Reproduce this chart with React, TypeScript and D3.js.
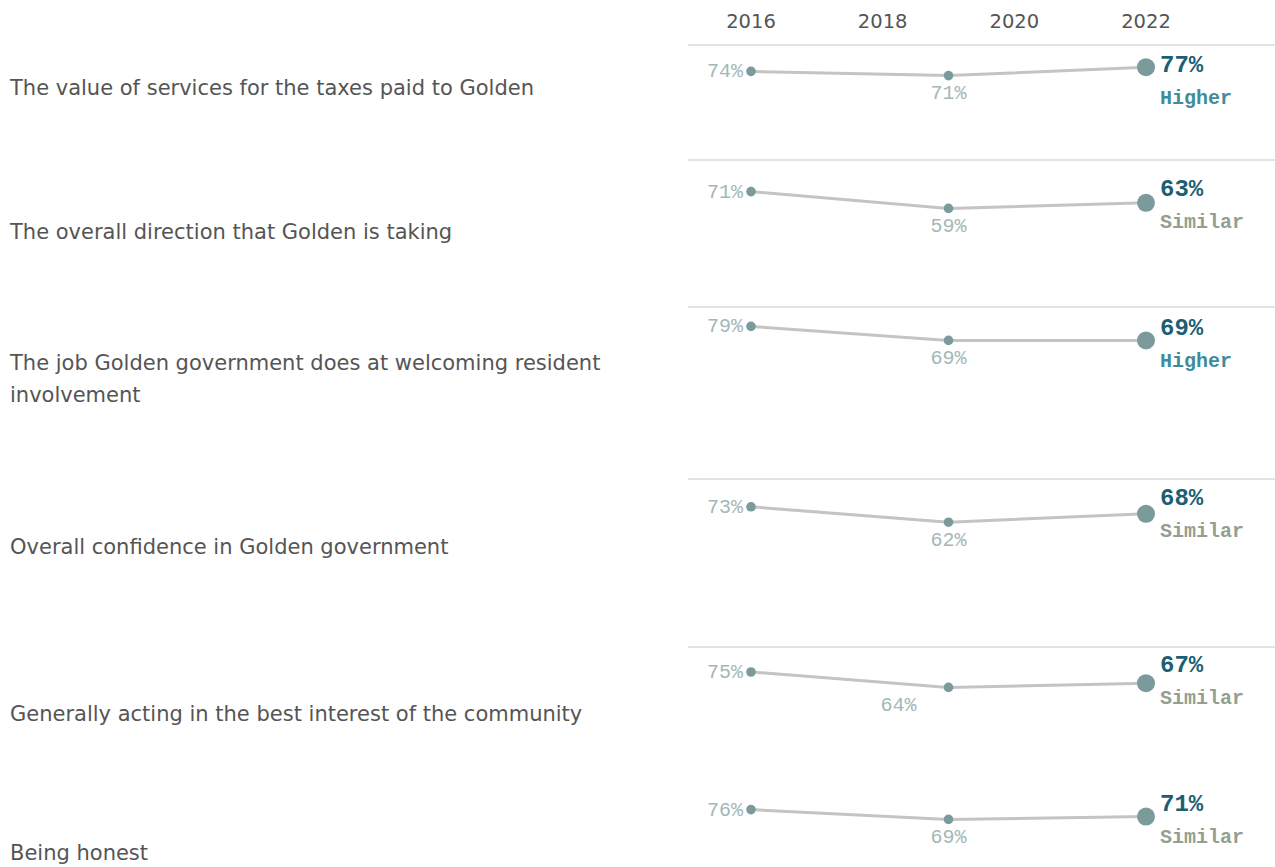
import React from "react";
import * as d3 from "d3";

// ---- data ----
const categories: string[][] = [
  ["The value of services for the taxes paid to Golden"],
  ["The overall direction that Golden is taking"],
  ["The job Golden government does at welcoming resident", "involvement"],
  ["Overall confidence in Golden government"],
  ["Generally acting in the best interest of the community"],
  ["Being honest"],
];
const surveyYears = [2016, 2019, 2022];
const values2016 = [74, 71, 79, 73, 75, 76];
const values2019 = [71, 59, 69, 62, 64, 69];
const values2022 = [77, 63, 69, 68, 67, 71];
const comparison = ["Higher", "Similar", "Higher", "Similar", "Similar", "Similar"];
const tickYears = [2016, 2018, 2020, 2022];

// ---- layout ----
const W = 1275;
const H = 867;
const rowTops = [45, 161, 307, 479, 647, 786];
const rowSeparator = [true, true, true, true, true, false];
const labelCenters = [87, 231, 378, 546, 713, 852];
const midLabelDx = [0, 0, 0, 0, -50, 0];
const bigLabelDy = [19, 27, 20, 18, 17, 17];
const labelLineH = 32;

const SANS = "'DejaVu Sans', Verdana, sans-serif";
const MONO = "'Liberation Mono', 'Courier New', monospace";

const colors = {
  sep: "#d9d9d9",
  line: "#c4c4c4",
  point: "#7b9a9b",
  small: "#a3b8b8",
  big: "#1d5e73",
  Higher: "#3f8c9b",
  Similar: "#939f90",
  text: "#555555",
};

export default function App() {
  const x = d3.scaleLinear().domain([2016, 2022]).range([751, 1146]);
  const yRel = d3.scaleLinear().domain([0, 100]).range([130, -10]);
  const lineGen = d3
    .line<[number, number]>()
    .x((d) => d[0])
    .y((d) => d[1]);

  return (
    <svg
      width={W}
      height={H}
      style={{ position: "absolute", left: 0, top: 0, background: "#fff" }}
    >
      {tickYears.map((t) => (
        <text
          key={t}
          x={x(t)}
          y={28}
          textAnchor="middle"
          fontFamily={SANS}
          fontSize={19.5}
          fill={colors.text}
        >
          {t}
        </text>
      ))}
      {categories.map((lines, i) => {
        const top = rowTops[i];
        const vals = [values2016[i], values2019[i], values2022[i]];
        const pts: [number, number][] = vals.map((v, j) => [
          x(surveyYears[j]),
          top + yRel(v),
        ]);
        const startY =
          labelCenters[i] - ((lines.length - 1) * labelLineH) / 2 + 7.5;
        const bigY = top + bigLabelDy[i] + 7.5;
        return (
          <g key={i}>
            {rowSeparator[i] && (
              <line
                x1={688}
                x2={W}
                y1={rowTops[i] === 161 ? 160 : top}
                y2={rowTops[i] === 161 ? 160 : top}
                stroke={colors.sep}
                strokeWidth={1.5}
              />
            )}
            {lines.map((ln, k) => (
              <text
                key={k}
                x={10}
                y={startY + k * labelLineH}
                fontFamily={SANS}
                fontSize={21}
                fill={colors.text}
              >
                {ln}
              </text>
            ))}
            <path
              d={lineGen(pts) || ""}
              fill="none"
              stroke={colors.line}
              strokeWidth={3}
            />
            <circle cx={pts[0][0]} cy={pts[0][1]} r={4.8} fill={colors.point} />
            <circle cx={pts[1][0]} cy={pts[1][1]} r={4.8} fill={colors.point} />
            <circle cx={pts[2][0]} cy={pts[2][1]} r={9} fill={colors.point} />
            <text
              x={pts[0][0] - 8}
              y={pts[0][1] + 6}
              textAnchor="end"
              fontFamily={MONO}
              fontSize={20}
              fill={colors.small}
            >
              {vals[0]}%
            </text>
            <text
              x={pts[1][0] + midLabelDx[i]}
              y={pts[1][1] + 23.5}
              textAnchor="middle"
              fontFamily={MONO}
              fontSize={20}
              fill={colors.small}
            >
              {vals[1]}%
            </text>
            <text
              x={pts[2][0] + 14}
              y={bigY}
              fontFamily={MONO}
              fontSize={24}
              fontWeight="bold"
              fill={colors.big}
            >
              {vals[2]}%
            </text>
            <text
              x={pts[2][0] + 14}
              y={bigY + 32}
              fontFamily={MONO}
              fontSize={20}
              fontWeight="bold"
              fill={(colors as any)[comparison[i]]}
            >
              {comparison[i]}
            </text>
          </g>
        );
      })}
    </svg>
  );
}
